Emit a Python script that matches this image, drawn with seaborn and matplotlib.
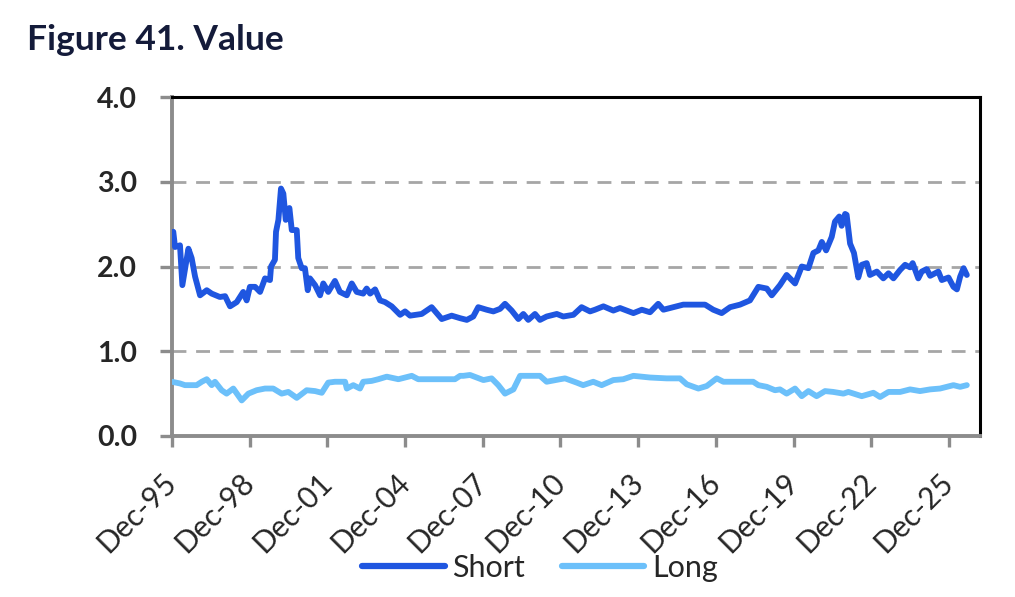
import numpy as np
import pandas as pd
import matplotlib
matplotlib.use("Agg")
import matplotlib.pyplot as plt
import seaborn as sns

# months since Dec-1995
short_months = [0.0, 0.6, 1.4, 3.7, 4.8, 7.6, 9.1, 10.7, 13.0, 16.1, 18.4, 22.2, 24.6, 26.9, 30.0,
                33.0, 34.6, 36.1, 38.5, 40.8, 43.1, 45.4, 45.9, 47.7, 48.2, 49.3, 50.5, 51.6, 52.7,
                54.4, 55.5, 57.8, 58.5, 60.1, 61.6, 62.9, 63.9, 66.3, 68.6, 70.1, 72.4, 75.5, 77.8,
                81.0, 83.3, 85.6, 88.6, 90.2, 91.8, 94.1, 96.4, 98.7, 101.8, 105.7, 108.0, 110.3,
                115.7, 120.3, 125.0, 129.6, 133.5, 136.6, 139.6, 141.9, 145.8, 148.9, 152.0, 154.3,
                157.4, 160.5, 162.8, 165.1, 168.2, 170.5, 173.6, 178.3, 181.3, 186.0, 189.8, 193.7,
                196.0, 199.9, 204.5, 207.6, 213.8, 217.7, 221.5, 225.3, 227.7, 232.3, 236.9, 242.4,
                247.0, 250.8, 254.7, 258.6, 263.2, 267.8, 271.7, 275.6, 277.9, 281.7, 284.8, 288.7,
                291.8, 294.9, 297.2, 299.5, 301.1, 303.1, 305.7, 307.2, 309.2, 310.3, 311.9, 312.6,
                314.2, 316.0, 318.0, 319.6, 321.9, 323.4, 326.6, 329.6, 332.0, 334.3, 337.4, 339.7,
                342.0, 343.2, 345.8, 347.4, 349.7, 351.3, 355.1, 356.7, 359.8, 362.1, 363.7, 365.2,
                366.8, 368.3]
short_values = [2.38, 2.41, 2.23, 2.25, 1.78, 2.21, 2.10, 1.88, 1.66, 1.72, 1.68, 1.64, 1.65, 1.53, 1.58,
                1.70, 1.60, 1.76, 1.76, 1.70, 1.86, 1.84, 2.00, 2.08, 2.41, 2.55, 2.92, 2.86, 2.55,
                2.69, 2.43, 2.43, 2.10, 1.98, 1.98, 1.72, 1.86, 1.78, 1.66, 1.80, 1.70, 1.83, 1.70,
                1.66, 1.80, 1.70, 1.68, 1.74, 1.68, 1.73, 1.60, 1.58, 1.53, 1.43, 1.47, 1.42,
                1.44, 1.52, 1.38, 1.42, 1.39, 1.37, 1.41, 1.52, 1.49, 1.47, 1.50, 1.56,
                1.48, 1.38, 1.44, 1.37, 1.44, 1.37, 1.41, 1.44, 1.41, 1.43, 1.52, 1.47,
                1.49, 1.53, 1.48, 1.51, 1.45, 1.49, 1.46, 1.56, 1.49, 1.52, 1.55, 1.55,
                1.55, 1.49, 1.45, 1.52, 1.55, 1.60, 1.76, 1.74, 1.66, 1.78, 1.90, 1.80,
                2.00, 1.98, 2.16, 2.19, 2.29, 2.19, 2.35, 2.53, 2.59, 2.48, 2.62, 2.61,
                2.27, 2.16, 1.87, 2.02, 2.04, 1.90, 1.94, 1.86, 1.92, 1.86, 1.96, 2.02,
                1.99, 2.04, 1.86, 1.94, 1.97, 1.89, 1.94, 1.84, 1.87, 1.76, 1.73, 1.88,
                1.98, 1.90]

long_months = [0.0, 3.7, 6.0, 11.4, 13.8, 16.1, 18.4, 19.9, 23.0, 25.3, 28.4, 32.3, 35.4, 39.2, 43.1,
               46.9, 50.8, 53.9, 57.8, 62.4, 66.3, 69.4, 72.4, 75.5, 80.2, 81.0, 84.0, 87.1, 88.6,
               92.5, 95.6, 99.5, 104.9, 111.1, 114.1, 131.1, 133.5, 135.0, 138.1, 144.3, 148.1,
               151.2, 154.3, 158.2, 161.3, 170.5, 173.6, 179.8, 182.1, 187.5, 190.5, 195.2, 199.1,
               204.5, 209.1, 213.8, 221.5, 229.2, 235.4, 238.5, 243.9, 247.8, 252.4, 255.5, 269.3,
               271.7, 275.6, 279.4, 281.7, 284.8, 288.7, 291.8, 294.9, 298.7, 302.6, 306.4, 311.1,
               313.4, 319.6, 325.0, 328.1, 332.0, 337.4, 342.0, 346.6, 351.3, 355.9, 362.1, 365.2,
               368.3]
long_values = [0.64, 0.62, 0.60, 0.60, 0.64, 0.67, 0.60, 0.64, 0.54, 0.50, 0.56, 0.42, 0.50, 0.54, 0.56,
               0.56, 0.50, 0.52, 0.45, 0.54, 0.53, 0.51, 0.63, 0.64, 0.64, 0.56, 0.60, 0.56, 0.64,
               0.65, 0.67, 0.70, 0.67, 0.71, 0.67, 0.67, 0.71, 0.71, 0.72, 0.66, 0.68,
               0.60, 0.50, 0.55, 0.71, 0.71, 0.64, 0.67, 0.68, 0.63, 0.60, 0.64, 0.60,
               0.66, 0.67, 0.71, 0.69, 0.68, 0.68, 0.61, 0.56, 0.59, 0.68, 0.64, 0.64,
               0.60, 0.58, 0.54, 0.55, 0.50, 0.56, 0.47, 0.53, 0.47, 0.53, 0.52, 0.50,
               0.52, 0.47, 0.51, 0.46, 0.52, 0.52, 0.55, 0.53, 0.55, 0.56, 0.60, 0.58,
               0.60]

tick_labels = ["Dec-95", "Dec-98", "Dec-01", "Dec-04", "Dec-07", "Dec-10",
               "Dec-13", "Dec-16", "Dec-19", "Dec-22", "Dec-25"]
y_ticks = [0.0, 1.0, 2.0, 3.0, 4.0]
series_names = ["Short", "Long"]
colors = {"Short": "#1F56E0", "Long": "#6CC0FA"}

df = pd.concat([
    pd.DataFrame({"month": short_months, "value": short_values, "series": "Short"}),
    pd.DataFrame({"month": long_months, "value": long_values, "series": "Long"}),
], ignore_index=True)

sns.set_theme(style="white")
plt.rcParams["font.family"] = ["Lato", "DejaVu Sans"]

fig = plt.figure(figsize=(10.15, 5.97), dpi=100)
ax = fig.add_axes([172 / 1015, 1 - 436 / 597, (980 - 172) / 1015, (436 - 97) / 597])

sns.lineplot(data=df, x="month", y="value", hue="series", hue_order=series_names,
             palette=colors, linewidth=4.2, ax=ax, legend=False, estimator=None,
             sort=False, zorder=3, solid_capstyle="round", solid_joinstyle="round")

ax.set_xlim(0, 374.4)
ax.set_ylim(0, 4.0)
ax.set_xticks([36 * i for i in range(len(tick_labels))])
ax.set_xticklabels(tick_labels, rotation=45, ha="right", va="center",
                   rotation_mode="anchor", fontsize=21.5)
ax.set_yticks(y_ticks)
ax.set_yticklabels([f"{v:.1f}" for v in y_ticks], fontsize=20.5, fontweight="bold")
ax.set_xlabel("")
ax.set_ylabel("")

for yv in y_ticks[1:-1]:
    ax.axhline(yv, color="#A6A6A6", linewidth=2.0, linestyle=(0, (5, 3.5)), zorder=1)

for s in ["left", "bottom"]:
    ax.spines[s].set_color("#8C8C8C")
    ax.spines[s].set_linewidth(2.8)
for s in ["top", "right"]:
    ax.spines[s].set_color("black")
    ax.spines[s].set_linewidth(2.2)

ax.tick_params(axis="y", which="major", left=True, length=9, width=2.4, color="#8C8C8C", pad=16)
ax.tick_params(axis="x", which="major", bottom=True, length=8, width=2.4, color="#8C8C8C", pad=22)

fig.text(27 / 1015, 1 - 40 / 597, "Figure 41. Value", fontsize=25.5, fontweight="bold",
         color="#141B3A", ha="left", va="center")

handles = [plt.Line2D([0], [0], color=colors[n], linewidth=4.5, solid_capstyle="round")
           for n in series_names]
fig.legend(handles, series_names, loc="center", bbox_to_anchor=(540 / 1015, 1 - 568 / 597),
           ncol=2, frameon=False, fontsize=22, handlelength=2.7, handletextpad=0.25,
           columnspacing=1.2, borderaxespad=0, borderpad=0)

fig.savefig("out.png", dpi=100)
